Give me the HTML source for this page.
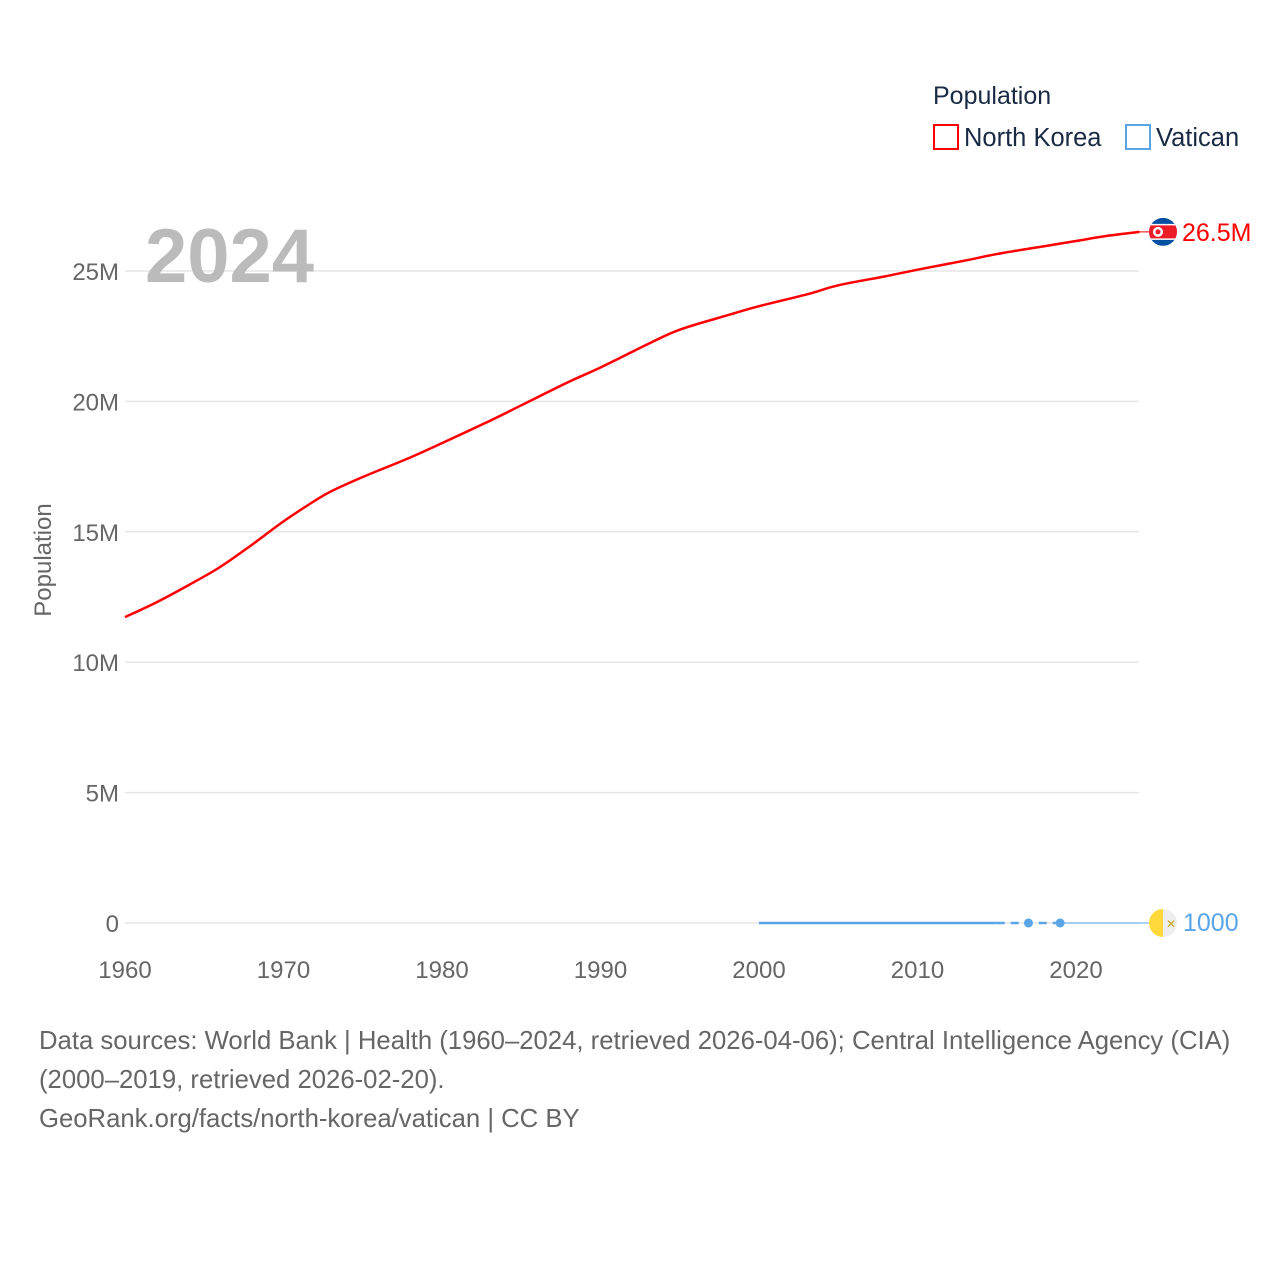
<!DOCTYPE html>
<html><head><meta charset="utf-8">
<style>
html,body{margin:0;padding:0;background:#fff;}
body{width:1280px;height:1280px;position:relative;font-family:"Liberation Sans",sans-serif;}
svg{position:absolute;left:0;top:0;}
.src{position:absolute;left:39px;top:1022px;font-size:25.7px;line-height:39px;color:#666;width:1230px;}
</style></head>
<body>
<svg id="chart" width="1280" height="1280">
  <g>
    <text x="933" y="104" font-size="25" fill="#1a2a44">Population</text>
    <rect x="934" y="125" width="24" height="24" fill="none" stroke="#ff0000" stroke-width="2"/>
    <text x="964" y="146" font-size="25.5" fill="#1a2a44">North Korea</text>
    <rect x="1126" y="125" width="24" height="24" fill="none" stroke="#5aa5e8" stroke-width="2"/>
    <text x="1156" y="146" font-size="25.5" fill="#1a2a44">Vatican</text>
  </g>
  <g id="grid"></g>
  <text x="145" y="282" font-size="76" font-weight="bold" fill="#bbbbbb">2024</text>
  <text transform="translate(51,560) rotate(-90)" text-anchor="middle" font-size="24" fill="#666">Population</text>
  <g id="series"></g>
</svg>
<div class="src">Data sources: World Bank | Health (1960–2024, retrieved 2026-04-06); Central Intelligence Agency (CIA) (2000–2019, retrieved 2026-02-20).<br>GeoRank.org/facts/north-korea/vatican | CC BY</div>
<script>
const yTicks=[0,5e6,10e6,15e6,20e6,25e6];
const yTickLabels=["0","5M","10M","15M","20M","25M"];
const xTicks=[1960,1970,1980,1990,2000,2010,2020];
const nkYears=[1960,1962,1964,1966,1968,1970,1972,1973,1975,1978,1980,1983,1985,1988,1990,1993,1995,1998,2000,2003,2005,2008,2010,2013,2015,2018,2020,2022,2024];
const nkValues=[11.73e6,12.3e6,12.95e6,13.65e6,14.5e6,15.4e6,16.2e6,16.55e6,17.1e6,17.85e6,18.4e6,19.25e6,19.85e6,20.75e6,21.3e6,22.2e6,22.75e6,23.3e6,23.65e6,24.1e6,24.45e6,24.8e6,25.05e6,25.4e6,25.65e6,25.95e6,26.15e6,26.35e6,26.5e6];
const vaSolidYears=[2000,2005,2010,2015];
const vaSolidValues=[870,840,840,840];
const vaPointYears=[2017,2019];
const vaPointValues=[1000,1000];
const vaLastValue=1000;
const NS="http://www.w3.org/2000/svg";
const X=y=>125+(y-1960)*(1076-125)/60;
const Y=v=>923-v*(923-271)/25e6;
function mk(tag,attrs,parent){const e=document.createElementNS(NS,tag);for(const k in attrs)e.setAttribute(k,attrs[k]);parent.appendChild(e);return e;}
const grid=document.getElementById('grid'),ser=document.getElementById('series');
yTicks.forEach((t,i)=>{
  const l=mk('line',{x1:125,x2:1139,y1:Y(t),y2:Y(t),stroke:'#e6e6e6','stroke-width':1.5},grid);
  
  
  const tx=mk('text',{x:119,y:Y(t)+9,'text-anchor':'end','font-size':24,fill:'#666'},grid);
  tx.textContent=yTickLabels[i];
  
  
});
xTicks.forEach(t=>{
  const tx=mk('text',{x:X(t),y:978,'text-anchor':'middle','font-size':24,fill:'#666'},grid);
  tx.textContent=t;
  
  
});
// North Korea (Catmull-Rom smoothing)
const nkPts=nkYears.map((y,i)=>[X(y),Y(nkValues[i])]);
let d='M'+nkPts[0];
for(let i=0;i<nkPts.length-1;i++){
  const p0=nkPts[Math.max(0,i-1)],p1=nkPts[i],p2=nkPts[i+1],p3=nkPts[Math.min(nkPts.length-1,i+2)];
  const c1=[p1[0]+(p2[0]-p0[0])/6,p1[1]+(p2[1]-p0[1])/6];
  const c2=[p2[0]-(p3[0]-p1[0])/6,p2[1]-(p3[1]-p1[1])/6];
  d+=` C${c1} ${c2} ${p2}`;
}
const nk=mk('path',{d:d,fill:'none',stroke:'#ff0000','stroke-width':2.5},ser);


const nl=nkPts[nkPts.length-1];
const nkc=mk('line',{x1:nl[0],y1:nl[1],x2:1150,y2:nl[1],stroke:'#ff0000','stroke-width':1},ser);


const fg=mk('g',{},ser);


const fy=nl[1];
mk('clipPath',{id:'nkc'},fg);
mk('circle',{cx:1163,cy:fy,r:14},document.getElementById('nkc'));
const fgi=mk('g',{'clip-path':'url(#nkc)'},fg);
mk('rect',{x:1149,y:fy-14,width:28,height:28,fill:'#024fa2'},fgi);
mk('rect',{x:1149,y:fy-8,width:28,height:16,fill:'#fff'},fgi);
mk('rect',{x:1149,y:fy-6.5,width:28,height:13,fill:'#ed1c27'},fgi);
mk('circle',{cx:1158,cy:fy,r:5,fill:'#fff'},fgi);
mk('circle',{cx:1158,cy:fy,r:2.5,fill:'#ed1c27'},fgi);
const nkl=mk('text',{x:1182,y:fy+9,'font-size':25,fill:'#ff0000'},ser);
nkl.textContent='26.5M';


// Vatican
const vs=mk('polyline',{points:vaSolidYears.map((y,i)=>X(y)+','+Y(vaSolidValues[i])).join(' '),fill:'none',stroke:'#5aa5e8','stroke-width':2.5},ser);


const lastSolid=[X(vaSolidYears[vaSolidYears.length-1]),Y(vaSolidValues[vaSolidValues.length-1])];
const vd=mk('polyline',{points:[lastSolid.join(',')].concat(vaPointYears.map((y,i)=>X(y)+','+Y(vaPointValues[i]))).join(' '),fill:'none',stroke:'#5aa5e8','stroke-width':2.5,'stroke-dasharray':'8,6'},ser);


vaPointYears.forEach((y,i)=>{
  const c=mk('circle',{cx:X(y),cy:Y(vaPointValues[i]),r:4.5,fill:'#5aa5e8'},ser);
  
  
});
const vy=Y(vaLastValue);
const vc=mk('line',{x1:X(vaPointYears[vaPointYears.length-1]),y1:vy,x2:1149,y2:vy,stroke:'#5aa5e8','stroke-width':1},ser);


const vf=mk('g',{},ser);


mk('path',{d:`M1163,${vy-14} A14,14 0 0 0 1163,${vy+14} Z`,fill:'#ffd83a'},vf);
mk('path',{d:`M1163,${vy-14} A14,14 0 0 1 1163,${vy+14} Z`,fill:'#eeeeee'},vf);
mk('text',{x:1166,y:vy+5,'font-size':12,fill:'#c9a227'},vf).textContent='✕';
const vl=mk('text',{x:1183,y:vy+8,'font-size':25,fill:'#5aa5e8'},ser);
vl.textContent='1000';


</script>
</body></html>
